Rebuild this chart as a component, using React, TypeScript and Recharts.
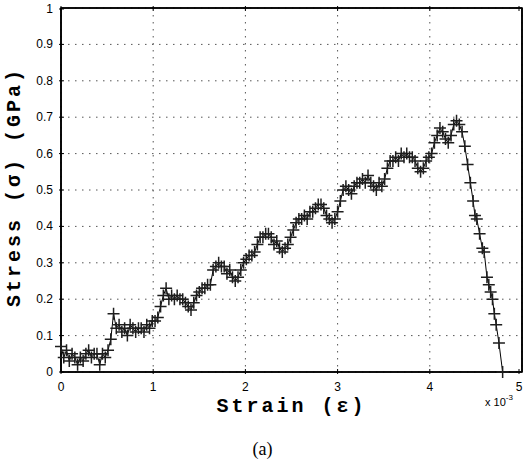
import React from 'react';
import { LineChart, Line, XAxis, YAxis, CartesianGrid, ReferenceArea } from 'recharts';

// strain in units of 1e-3, stress in GPa
const strain = [
  0.00, 0.03, 0.06, 0.09, 0.12, 0.15, 0.18, 0.21, 0.24, 0.27,
  0.30, 0.33, 0.36, 0.39, 0.42, 0.45, 0.48, 0.51, 0.54, 0.57,
  0.60, 0.63, 0.66, 0.69, 0.72, 0.75, 0.78, 0.81, 0.84, 0.87,
  0.90, 0.93, 0.96, 0.99, 1.02, 1.05, 1.08, 1.11, 1.14, 1.17,
  1.20, 1.23, 1.26, 1.29, 1.32, 1.35, 1.38, 1.41, 1.44, 1.47,
  1.50, 1.53, 1.56, 1.59, 1.62, 1.65, 1.68, 1.71, 1.74, 1.77,
  1.80, 1.83, 1.86, 1.89, 1.92, 1.95, 1.98, 2.01, 2.04, 2.07,
  2.10, 2.13, 2.16, 2.19, 2.22, 2.25, 2.28, 2.31, 2.34, 2.37,
  2.40, 2.43, 2.46, 2.49, 2.52, 2.55, 2.58, 2.61, 2.64, 2.67,
  2.70, 2.73, 2.76, 2.79, 2.82, 2.85, 2.88, 2.91, 2.94, 2.97,
  3.00, 3.03, 3.06, 3.09, 3.12, 3.15, 3.18, 3.21, 3.24, 3.27,
  3.30, 3.33, 3.36, 3.39, 3.42, 3.45, 3.48, 3.51, 3.54, 3.57,
  3.60, 3.63, 3.66, 3.69, 3.72, 3.75, 3.78, 3.81, 3.84, 3.87,
  3.90, 3.93, 3.96, 3.99, 4.02, 4.05, 4.08, 4.11, 4.14, 4.17,
  4.20, 4.23, 4.26, 4.29, 4.32, 4.35, 4.38, 4.41,
  4.44, 4.47, 4.49, 4.51, 4.54, 4.57, 4.59, 4.62, 4.64, 4.66,
  4.68, 4.70, 4.72, 4.75, 4.79,
];

const stress = [
  0.07, 0.04, 0.06, 0.03, 0.05, 0.04, 0.02, 0.04, 0.03, 0.05,
  0.06, 0.04, 0.05, 0.05, 0.02, 0.05, 0.04, 0.06, 0.09, 0.16,
  0.12, 0.13, 0.11, 0.12, 0.10, 0.13, 0.12, 0.11, 0.12, 0.12,
  0.11, 0.13, 0.12, 0.14, 0.14, 0.15, 0.18, 0.21, 0.23, 0.20,
  0.21, 0.20, 0.21, 0.20, 0.20, 0.19, 0.18, 0.17, 0.19, 0.21,
  0.22, 0.23, 0.23, 0.24, 0.24, 0.28, 0.29, 0.30, 0.29, 0.29,
  0.27, 0.28, 0.26, 0.25, 0.26, 0.28, 0.30, 0.31, 0.32, 0.32,
  0.33, 0.35, 0.37, 0.37, 0.38, 0.38, 0.37, 0.35, 0.36, 0.34,
  0.33, 0.34, 0.35, 0.37, 0.39, 0.41, 0.42, 0.42, 0.43, 0.42,
  0.44, 0.44, 0.45, 0.46, 0.46, 0.45, 0.43, 0.42, 0.41, 0.42,
  0.44, 0.47, 0.50, 0.51, 0.50, 0.49, 0.51, 0.52, 0.52, 0.53,
  0.52, 0.54, 0.52, 0.51, 0.50, 0.52, 0.51, 0.53, 0.56, 0.58,
  0.58, 0.59, 0.58, 0.60, 0.59, 0.60, 0.59, 0.59, 0.58, 0.56,
  0.55, 0.56, 0.58, 0.59, 0.60, 0.63, 0.65, 0.67, 0.66, 0.64,
  0.63, 0.65, 0.68, 0.69, 0.68, 0.66, 0.62, 0.57,
  0.52, 0.47, 0.43, 0.42, 0.38, 0.34, 0.33, 0.26, 0.24, 0.22,
  0.20, 0.16, 0.13, 0.08, 0.00,
];

const xTicks = [0, 1, 2, 3, 4, 5];
const yTicks = [0, 0.1, 0.2, 0.3, 0.4, 0.5, 0.6, 0.7, 0.8, 0.9, 1];

const data = strain.map((s, i) => ({ strain: s, stress: stress[i] }));

const TICK_FONT = '"Liberation Sans", Arial, sans-serif';
const LABEL_FONT = '"Liberation Mono", "Courier New", monospace';

const PlusDot = (props: any) => {
  const { cx, cy, index } = props;
  if (cx == null || cy == null) return null;
  return (
    <path
      key={`dot-${index}`}
      d={`M${cx - 6},${cy}H${cx + 6}M${cx},${cy - 6}V${cy + 6}`}
      stroke="#1e1e1e"
      strokeWidth={1.5}
      fill="none"
    />
  );
};

const BottomTick = (props: any) => {
  const { x, y, payload } = props;
  return (
    <g>
      <line x1={x} x2={x} y1={y} y2={y - 5} stroke="#000" />
      <text x={x} y={y + 17} textAnchor="middle" fontSize={12} fontFamily={TICK_FONT} fill="#000">
        {payload.value}
      </text>
    </g>
  );
};

const LeftTick = (props: any) => {
  const { x, y, payload } = props;
  return (
    <g>
      <line x1={x} x2={x + 5} y1={y} y2={y} stroke="#000" />
      <text x={x - 6} y={y + 4} textAnchor="end" fontSize={12} fontFamily={TICK_FONT} fill="#000">
        {payload.value}
      </text>
    </g>
  );
};

const TopTick = (props: any) => {
  const { x, y } = props;
  return <line x1={x} x2={x} y1={y} y2={y + 5} stroke="#000" />;
};

const RightTick = (props: any) => {
  const { x, y } = props;
  return <line x1={x} x2={x - 5} y1={y} y2={y} stroke="#000" />;
};

const XTitle = (props: any) => {
  const { viewBox } = props;
  const cx = viewBox.x + viewBox.width / 2;
  const right = viewBox.x + viewBox.width;
  return (
    <g>
      <text
        x={cx}
        y={viewBox.y + 40}
        textAnchor="middle"
        fontSize={20}
        fontWeight="bold"
        letterSpacing={3}
        fontFamily={LABEL_FONT}
        fill="#000"
      >
        Strain (ε)
      </text>
      <text x={right - 37} y={viewBox.y + 34} fontSize={11} fontFamily={TICK_FONT} fill="#000">
        x 10
        <tspan fontSize={8} dy={-6}>-3</tspan>
      </text>
      <text x={cx - 29} y={viewBox.y + 83} textAnchor="middle" fontSize={18} fontFamily='"Liberation Serif", "Times New Roman", serif' fill="#000">
        (a)
      </text>
    </g>
  );
};

const YTitle = (props: any) => {
  const { viewBox } = props;
  const x = viewBox.x + 20;
  const y = viewBox.y + viewBox.height / 2 - 3;
  return (
    <text
      x={x}
      y={y}
      transform={`rotate(-90 ${x} ${y})`}
      textAnchor="middle"
      fontSize={20}
      fontWeight="bold"
      letterSpacing={3}
      fontFamily={LABEL_FONT}
      fill="#000"
    >
      Stress (σ) (GPa)
    </text>
  );
};

export default function App() {
  return (
    <div style={{ position: 'absolute', left: 0, top: 0, width: 523, height: 468, background: '#fff' }}>
      <LineChart width={523} height={468} data={data} margin={{ top: 7, right: 0, bottom: 66, left: 0 }}>
        <CartesianGrid stroke="#555" strokeDasharray="1.5 5.5" strokeWidth={1} />
        <XAxis
          xAxisId={0}
          dataKey="strain"
          type="number"
          domain={[0, 5]}
          ticks={xTicks}
          height={30}
          tickSize={0}
          tickLine={false}
          tick={<BottomTick />}
          axisLine={{ stroke: '#000', strokeWidth: 1.6 }}
          label={{ content: <XTitle /> }}
        />
        <XAxis
          xAxisId="top"
          orientation="top"
          dataKey="strain"
          type="number"
          domain={[0, 5]}
          ticks={xTicks}
          height={1}
          tickSize={0}
          tickLine={false}
          tick={<TopTick />}
          axisLine={{ stroke: '#000', strokeWidth: 1.6 }}
        />
        <YAxis
          yAxisId={0}
          type="number"
          domain={[0, 1]}
          ticks={yTicks}
          width={61}
          tickSize={0}
          tickLine={false}
          tick={<LeftTick />}
          axisLine={{ stroke: '#000', strokeWidth: 1.6 }}
          label={{ content: <YTitle /> }}
        />
        <YAxis
          yAxisId="right"
          orientation="right"
          type="number"
          domain={[0, 1]}
          ticks={yTicks}
          width={1}
          tickSize={0}
          tickLine={false}
          tick={<RightTick />}
          axisLine={{ stroke: '#000', strokeWidth: 1.6 }}
        />
        <ReferenceArea
          xAxisId={0}
          yAxisId={0}
          x1={0}
          x2={5}
          y1={0}
          y2={1}
          fill="none"
          stroke="#000"
          strokeWidth={1.6}
          fillOpacity={0}
          strokeOpacity={1}
        />
        <Line
          xAxisId={0}
          yAxisId={0}
          type="linear"
          dataKey="stress"
          stroke="#000"
          strokeWidth={1}
          dot={PlusDot}
          isAnimationActive={false}
        />
      </LineChart>
    </div>
  );
}
